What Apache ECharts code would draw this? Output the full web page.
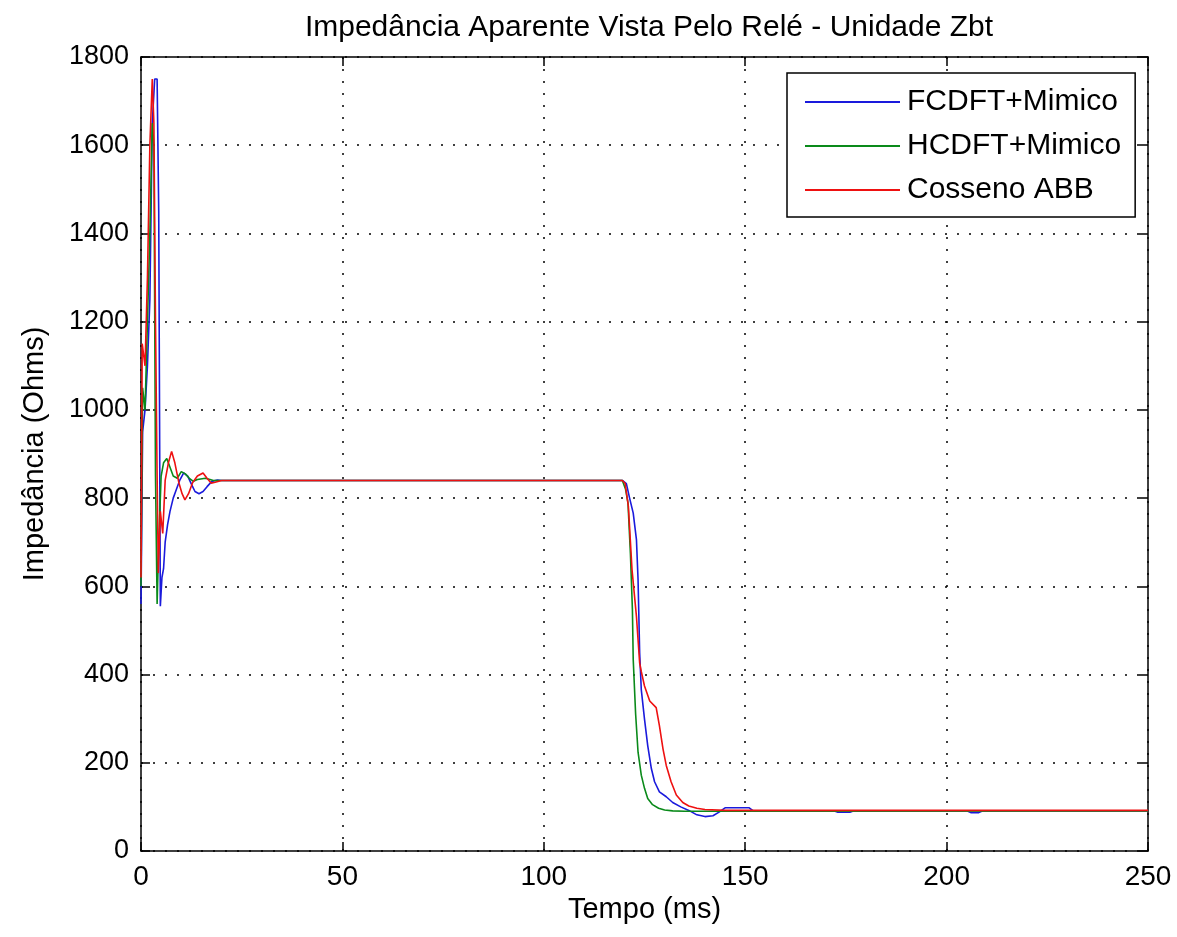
<!DOCTYPE html>
<html>
<head>
<meta charset="utf-8">
<title>Impedância Aparente Vista Pelo Relé - Unidade Zbt</title>
<script src="https://cdn.jsdelivr.net/npm/echarts@6/dist/echarts.min.js"></script>
<style>
html, body { margin: 0; padding: 0; background: #fff; }
#chart { width: 1177px; height: 937px; }
</style>
</head>
<body>
<div id="chart"></div>
<script>
// nomes das curvas
var seriesNames = ['FCDFT+Mimico', 'HCDFT+Mimico', 'Cosseno ABB'];
var xTicks = [0, 50, 100, 150, 200, 250];
var yTicks = [0, 200, 400, 600, 800, 1000, 1200, 1400, 1600, 1800];

// FCDFT+Mimico (azul) - tempo (ms) / impedância (Ohms)
var fcdftT = [0, 0.4, 1, 1.6, 2.2, 2.8, 3.4, 4, 4.4, 4.8, 5.2, 5.6, 6, 6.6, 7.2, 8, 8.8, 9.6, 10.6, 11.6, 12.6, 13.4, 14.4, 15.4, 16.4, 17.6, 19, 20,
  119.5, 120.5, 121.3, 122.2, 123, 123.4, 123.8, 124.2, 125, 125.8, 126.7, 127.5, 128.7, 130.4, 132, 134, 136, 138, 140, 142, 143.5, 145, 151, 152, 172, 173, 176, 177, 205, 206, 208, 209, 250];
var fcdftV = [560, 950, 1000, 1100, 1250, 1650, 1750, 1750, 1450, 555, 620, 640, 700, 740, 770, 800, 820, 840, 857, 850, 830, 815, 810, 815, 826, 838, 841, 840,
  840, 833, 800, 766, 706, 615, 449, 366, 299, 239, 187, 157, 134, 123, 110, 100, 92, 82, 78, 80, 88, 98, 98, 91, 91, 88, 88, 91, 91, 87, 87, 91, 91];

// HCDFT+Mimico (verde)
var hcdftT = [0, 0.4, 1, 1.6, 2.2, 2.8, 3.2, 3.6, 4, 4.4, 5, 5.6, 6.4, 7.2, 8, 9, 10, 11, 12, 13, 14, 16, 18, 20,
  119.5, 120.3, 120.9, 121.5, 122, 122.2, 122.8, 123.4, 124.2, 125, 125.8, 127, 128.5, 130, 132, 135, 250];
var hcdftV = [600, 1050, 1000, 1200, 1400, 1650, 1600, 850, 560, 700, 850, 880, 890, 870, 850, 845, 860, 855, 845, 838, 842, 845, 840, 840,
  840, 820, 789, 675, 547, 434, 310, 224, 172, 142, 119, 105, 97, 93, 91, 90, 91];

// Cosseno ABB (vermelho)
var cossenoT = [0, 0.3, 1, 1.6, 2.2, 2.8, 3.2, 3.6, 4, 4.3, 4.8, 5.4, 6, 6.8, 7.6, 8.4, 9.4, 10.2, 10.9, 11.8, 12.8, 14, 15.4, 16.4, 17.4, 18.4, 20,
  119.5, 120.2, 121, 121.9, 123, 123.8, 124.2, 125, 126.3, 127.9, 128.7, 129.6, 130.4, 131.6, 132.9, 134.5, 136, 138, 140, 145, 250];
var cossenoV = [620, 1150, 1100, 1300, 1600, 1750, 1650, 1200, 850, 630, 770, 720, 840, 880, 906, 880, 835, 810, 796, 810, 835, 850, 857, 845, 834, 836, 840,
  840, 833, 781, 638, 532, 426, 407, 374, 340, 325, 284, 231, 194, 157, 127, 110, 102, 97, 94, 92, 92];

function pares(t, v) {
  var out = [];
  for (var i = 0; i < t.length; i++) out.push([t[i], v[i]]);
  return out;
}

var fonte = '"Liberation Sans", Arial, sans-serif';
var cores = ['#1a1adc', '#0a8a1a', '#ee1111'];

var myChart = echarts.init(document.getElementById('chart'), null, { renderer: 'canvas' });

// eixo base (ticks para dentro, grade pontilhada)
function eixo(extra) {
  var base = {
    type: 'value',
    axisLine: { show: true, onZero: false, lineStyle: { color: '#000', width: 1.5 } },
    axisTick: { show: true, inside: true, length: 9, lineStyle: { color: '#000', width: 1.5 } },
    splitLine: { show: false },
    axisLabel: { show: false }
  };
  return echarts.util.merge(base, extra, true);
}

var option = {
  animation: false,
  backgroundColor: '#fff',
  color: cores,
  title: {
    text: 'Impedância Aparente Vista Pelo Relé - Unidade Zbt',
    left: 644,
    textAlign: 'center',
    top: 8,
    textStyle: { fontFamily: fonte, fontSize: 30, fontWeight: 'normal', color: '#000' }
  },
  legend: {
    data: seriesNames,
    orient: 'vertical',
    left: 787,
    top: 73,
    padding: [14, 14, 12, 18],
    itemGap: 14,
    itemWidth: 95,
    itemHeight: 2,
    icon: 'rect',
    backgroundColor: '#fff',
    borderColor: '#000',
    borderWidth: 1.5,
    textStyle: { fontFamily: fonte, fontSize: 30, color: '#000', padding: [0, 0, 0, 2] }
  },
  grid: { left: 141, right: 29, top: 57, bottom: 86, containLabel: false },
  xAxis: [
    eixo({
      min: 0, max: 250, interval: 50,
      name: 'Tempo (ms)', nameLocation: 'middle', nameGap: 44,
      nameTextStyle: { fontFamily: fonte, fontSize: 29, color: '#000' },
      splitLine: { show: true, lineStyle: { color: '#000', width: 1.5, type: [2, 10] } },
      axisLabel: { show: true, margin: 12, fontFamily: fonte, fontSize: 28, color: '#000' }
    }),
    eixo({ min: 0, max: 250, interval: 50, position: 'top' })
  ],
  yAxis: [
    eixo({
      min: 0, max: 1800, interval: 200,
      name: 'Impedância (Ohms)', nameLocation: 'middle', nameGap: 92,
      nameTextStyle: { fontFamily: fonte, fontSize: 29, color: '#000' },
      splitLine: { show: true, lineStyle: { color: '#000', width: 1.5, type: [2, 10] } },
      axisLabel: {
        show: true, margin: 12, fontFamily: fonte, fontSize: 27, color: '#000',
        formatter: function (v) { return String(v); }
      }
    }),
    eixo({ min: 0, max: 1800, interval: 200, position: 'right' })
  ],
  series: [
    { name: seriesNames[0], type: 'line', data: pares(fcdftT, fcdftV), symbol: 'none', lineStyle: { width: 1.6 }, z: 3 },
    { name: seriesNames[1], type: 'line', data: pares(hcdftT, hcdftV), symbol: 'none', lineStyle: { width: 1.6 }, z: 4 },
    { name: seriesNames[2], type: 'line', data: pares(cossenoT, cossenoV), symbol: 'none', lineStyle: { width: 1.6 }, z: 5 }
  ]
};
myChart.setOption(option);
</script>
</body>
</html>
